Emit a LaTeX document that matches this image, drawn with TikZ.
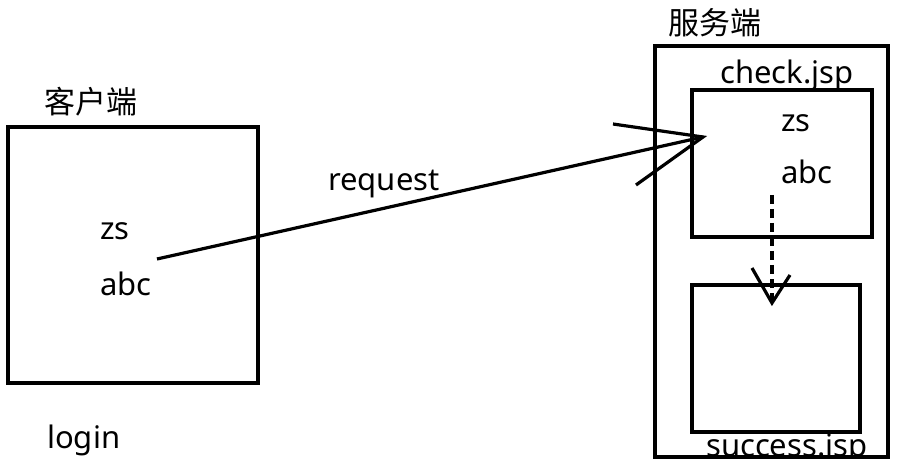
\documentclass[tikz,border=0pt]{standalone}
\usepackage{fontspec}
\setmainfont{Noto Sans}
\newfontfamily\cjk{Noto Sans CJK SC}
\begin{document}
\begin{tikzpicture}[x=1pt,y=-1pt,
  box/.style={draw,line width=3.2pt},
  lbl/.style={inner sep=0pt,font=\fontsize{31}{36}\selectfont,anchor=base west},
  cn/.style={inner sep=0pt,font=\cjk\fontsize{31}{36}\selectfont,anchor=base west},
  ln/.style={line width=3.2pt}]
\useasboundingbox (0,0) rectangle (906,476);
% texts
\node[cn] (kh) at (44,114) {客户端};
\node[cn] (fw) at (668,35) {服务端};
\node[lbl] (zs1) at (100,240) {zs};
\begin{scope}
\clip (90,260) rectangle (153,310);
\node[lbl] (abc1) at (100,295) {abc};
\end{scope}
\node[lbl] (login) at (47,448) {login};
\node[lbl] (req) at (328,191) {request};
\begin{scope}
\clip (700,50) rectangle (880,90);
\node[lbl] (chk) at (720,84) {check.jsp};
\end{scope}
\node[lbl] (zs2) at (781,132) {zs};
\node[lbl] (abc2) at (781,184) {abc};
\begin{scope}
\clip (690,420) rectangle (880,457);
\node[lbl] (suc) at (706,456) {success.jsp};
\end{scope}
% boxes
\node[box,minimum width=250,minimum height=256,inner sep=0pt] (client) at (133,255) {};
\node[box,minimum width=233,minimum height=411,inner sep=0pt] (server) at (771.5,251.5) {};
\node[box,minimum width=180,minimum height=147,inner sep=0pt] (check) at (782,163.5) {};
\node[box,minimum width=168,minimum height=147,inner sep=0pt] (success) at (776,358.5) {};
% request arrow
\coordinate (rs) at (157,259);
\coordinate (rt) at (703,137);
\coordinate (h1) at (613,124);
\coordinate (h2) at (636,185);
\draw[ln] (rs) -- (rt);
\draw[ln] (h1) -- (rt) -- (h2);
% dashed arrow
\coordinate (ds) at (772,195);
\coordinate (dt) at (772,303);
\coordinate (d1) at (752,268);
\coordinate (d2) at (790,275);
\draw[ln,dash pattern=on 9pt off 5pt] (ds) -- (dt);
\draw[ln] (d1) -- (dt) -- (d2);
\end{tikzpicture}
\end{document}
